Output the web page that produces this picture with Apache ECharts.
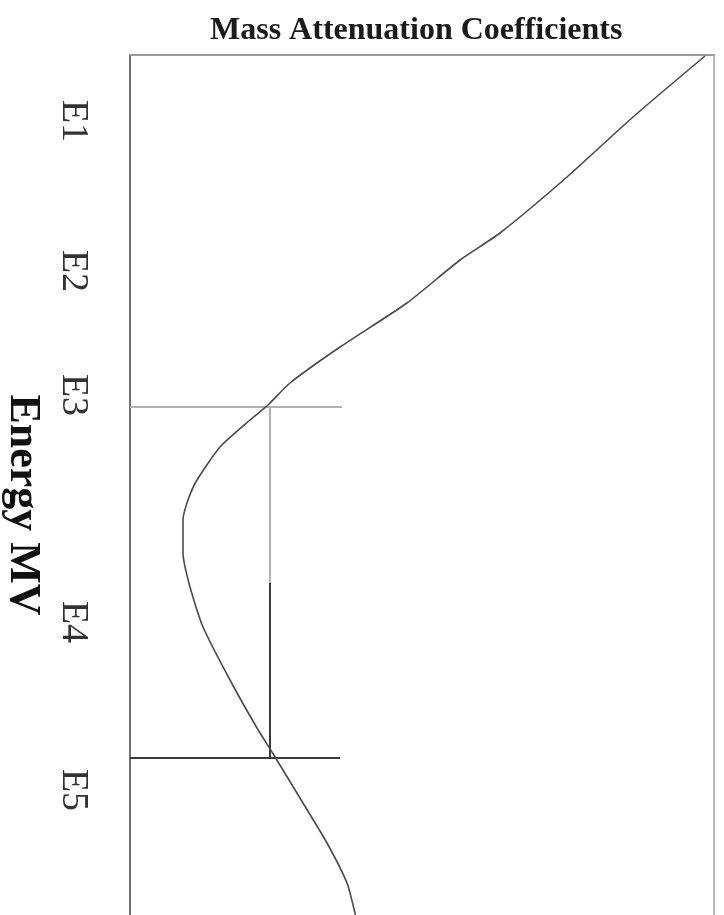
<!DOCTYPE html>
<html>
<head>
<meta charset="utf-8">
<script src="https://cdn.jsdelivr.net/npm/echarts@6/dist/echarts.min.js"></script>
<style>
  html, body { margin: 0; padding: 0; background: #ffffff; }
  #chart { width: 724px; height: 915px; }
</style>
</head>
<body>
<div id="chart"></div>
<script>
// Energy axis: label positions and their names
var energyTickPos = [6.6, 21.6, 34.0, 56.7, 73.5];
var energyTickNames = ['E1', 'E2', 'E3', 'E4', 'E5'];

// Attenuation curve: [coefficient, energy]
var curveCoef = [57.5, 50.3, 43.7, 37.0, 33.0, 27.7, 21.0, 16.0, 13.8, 12.0, 9.0, 6.7, 5.8, 5.3, 5.3, 5.3, 6.0, 7.3, 10.0, 12.7, 14.2, 17.3, 19.7, 21.7, 22.5, 22.8];
var curveEnergy = [0.1, 6.2, 12.2, 17.8, 20.5, 24.8, 29.2, 32.8, 35.0, 36.5, 39.2, 42.5, 44.5, 46.5, 48.2, 49.8, 53.2, 57.2, 62.5, 67.3, 69.7, 74.8, 78.8, 82.8, 85.8, 87.2];

// Reading lines at E3 and E5
var e3Energy = 35.2;
var e5Energy = 70.3;
var readCoef = 14.0;
var readEndCoef = [21.2, 21.0];
var readSplitEnergy = 52.8;

var curve = curveCoef.map(function (c, i) { return [c, curveEnergy[i]]; });
var e3Line = [[0, e3Energy], [readEndCoef[0], e3Energy]];
var e5Line = [[0, e5Energy], [readEndCoef[1], e5Energy]];
var vertUpper = [[readCoef, e3Energy], [readCoef, readSplitEnergy]];
var vertLower = [[readCoef, readSplitEnergy], [readCoef, e5Energy]];

var serif = "'Liberation Serif', 'Times New Roman', serif";

function guide(data, color, width) {
  return {
    type: 'line', data: data, symbol: 'none', silent: true,
    lineStyle: { color: color, width: width }, z: 2
  };
}

var chart = echarts.init(document.getElementById('chart'), null, { renderer: 'canvas' });
chart.setOption({
  animation: false,
  backgroundColor: '#ffffff',
  title: {
    text: 'Mass Attenuation Coefficients',
    left: 205, top: 10,
    textStyle: { fontFamily: serif, fontWeight: 'bold', fontSize: 32, color: '#1a1a1a' }
  },
  grid: { left: 130, right: 10, top: 55, bottom: -40, outerBoundsMode: 'none', containLabel: false },
  xAxis: {
    type: 'value', position: 'top', min: 0, max: 58.4,
    axisLine: { show: true, onZero: false, lineStyle: { color: '#9a9a9a', width: 2 } },
    axisTick: { show: false }, axisLabel: { show: false }, splitLine: { show: false }
  },
  yAxis: [{
    type: 'value', inverse: true, min: 0, max: 90, position: 'left',
    axisLine: { show: true, onZero: false, lineStyle: { color: '#6e6e6e', width: 2 } },
    axisTick: { show: false }, splitLine: { show: false },
    axisLabel: {
      customValues: energyTickPos,
      formatter: function (v) {
        var i = energyTickPos.indexOf(v);
        return i >= 0 ? energyTickNames[i] : '';
      },
      rotate: -90, margin: 38,
      fontFamily: serif, fontSize: 38, color: '#333333'
    },
    name: 'Energy MV', nameLocation: 'middle', nameRotate: -90, nameGap: 86,
    nameTextStyle: { fontFamily: serif, fontWeight: 'bold', fontSize: 44, color: '#111111' }
  }, {
    type: 'value', inverse: true, min: 0, max: 90, position: 'right',
    axisLine: { show: true, onZero: false, lineStyle: { color: '#bdbdbd', width: 2 } },
    axisTick: { show: false }, axisLabel: { show: false }, splitLine: { show: false }
  }],
  series: [
    {
      type: 'line', data: curve, smooth: 0.2, symbol: 'none',
      lineStyle: { color: '#4a4a4a', width: 1.6 }, z: 3
    },
    guide(e3Line, '#b0b0b0', 2),
    guide(vertUpper, '#b0b0b0', 2),
    guide(vertLower, '#3a3a3a', 2),
    guide(e5Line, '#3a3a3a', 2)
  ]
});
</script>
</body>
</html>
